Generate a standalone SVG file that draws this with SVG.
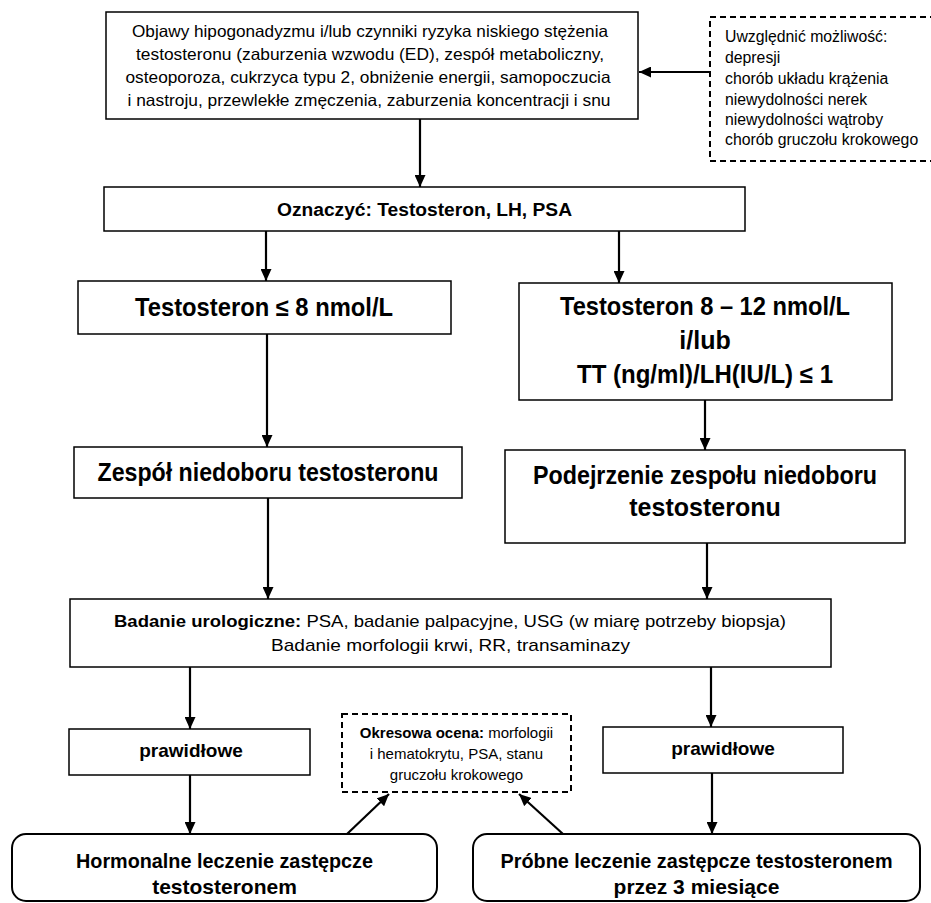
<svg xmlns="http://www.w3.org/2000/svg" width="931" height="903" viewBox="0 0 931 903">
<style>
.box{fill:#fff;stroke:#000;stroke-width:1.5}
.rbox{fill:#fff;stroke:#000;stroke-width:2}
.dbox{fill:#fff;stroke:#000;stroke-width:2;stroke-dasharray:6 4}
.c{stroke:#000;stroke-width:2.2;fill:none}
text{font-family:"Liberation Sans",Arial,sans-serif;fill:#000}
.n{font-size:16.5px;text-anchor:middle}
.s{font-size:15.8px}
.b{font-weight:bold;text-anchor:middle}
</style>
<defs>
<marker id="ah" markerUnits="userSpaceOnUse" markerWidth="12" markerHeight="11" refX="12" refY="5.5" orient="auto">
<path d="M0,0 L12,5.5 L0,11 z" fill="#000"/>
</marker>
</defs>

<g id="connectors">
<line class="c" x1="710" y1="72" x2="639" y2="72" marker-end="url(#ah)"/>
<line class="c" x1="420" y1="119" x2="420" y2="187" marker-end="url(#ah)"/>
<line class="c" x1="266" y1="231" x2="266" y2="281" marker-end="url(#ah)"/>
<line class="c" x1="619" y1="231" x2="619" y2="283" marker-end="url(#ah)"/>
<line class="c" x1="267" y1="334" x2="267" y2="447" marker-end="url(#ah)"/>
<line class="c" x1="705" y1="400" x2="705" y2="450" marker-end="url(#ah)"/>
<line class="c" x1="268" y1="498" x2="268" y2="599" marker-end="url(#ah)"/>
<line class="c" x1="707" y1="543" x2="707" y2="599" marker-end="url(#ah)"/>
<line class="c" x1="190" y1="667" x2="190" y2="729" marker-end="url(#ah)"/>
<line class="c" x1="711" y1="667" x2="711" y2="727" marker-end="url(#ah)"/>
<line class="c" x1="190" y1="775" x2="190" y2="834" marker-end="url(#ah)"/>
<line class="c" x1="712" y1="773" x2="712" y2="834" marker-end="url(#ah)"/>
<line class="c" x1="347" y1="834" x2="389" y2="794" marker-end="url(#ah)"/>
<line class="c" x1="563" y1="834" x2="519" y2="794" marker-end="url(#ah)"/>
</g>

<g id="n-objawy">
<rect class="box" x="106" y="12" width="532" height="107"/>
<text class="n" x="370" y="37" textLength="476" lengthAdjust="spacingAndGlyphs">Objawy hipogonadyzmu i/lub czynniki ryzyka niskiego stężenia</text>
<text class="n" x="370" y="60" textLength="468" lengthAdjust="spacingAndGlyphs">testosteronu (zaburzenia wzwodu (ED), zespół metaboliczny,</text>
<text class="n" x="368" y="83" textLength="485" lengthAdjust="spacingAndGlyphs">osteoporoza, cukrzyca typu 2, obniżenie energii, samopoczucia</text>
<text class="n" x="369" y="106" textLength="483" lengthAdjust="spacingAndGlyphs">i nastroju, przewlekłe zmęczenia, zaburzenia koncentracji i snu</text>
</g>

<g id="n-uwzglednic">
<rect class="dbox" x="710" y="17" width="226" height="144"/>
<text class="s" x="725" y="42">Uwzględnić możliwość:</text>
<text class="s" x="725" y="63">depresji</text>
<text class="s" x="725" y="84">chorób układu krążenia</text>
<text class="s" x="725" y="105">niewydolności nerek</text>
<text class="s" x="725" y="125">niewydolności wątroby</text>
<text class="s" x="725" y="145">chorób gruczołu krokowego</text>
</g>

<g id="n-oznaczyc">
<rect class="box" x="104" y="187" width="641" height="44"/>
<text class="b" x="424.5" y="216" font-size="18" textLength="295" lengthAdjust="spacingAndGlyphs">Oznaczyć: Testosteron, LH, PSA</text>
</g>

<g id="n-t8">
<rect class="box" x="78" y="281" width="373" height="53"/>
<text class="b" x="264" y="316" font-size="25" textLength="258" lengthAdjust="spacingAndGlyphs">Testosteron ≤ 8 nmol/L</text>
</g>

<g id="n-t812">
<rect class="box" x="519" y="283" width="373" height="117"/>
<text class="b" x="705" y="315" font-size="25" textLength="290" lengthAdjust="spacingAndGlyphs">Testosteron 8 – 12 nmol/L</text>
<text class="b" x="705" y="349" font-size="25">i/lub</text>
<text class="b" x="705" y="383" font-size="25" textLength="256" lengthAdjust="spacingAndGlyphs">TT (ng/ml)/LH(IU/L) ≤ 1</text>
</g>

<g id="n-zespol">
<rect class="box" x="74" y="447" width="388" height="51"/>
<text class="b" x="268" y="481" font-size="25" textLength="341" lengthAdjust="spacingAndGlyphs">Zespół niedoboru testosteronu</text>
</g>

<g id="n-podejrzenie">
<rect class="box" x="505" y="450" width="400" height="93"/>
<text class="b" x="705" y="484" font-size="25" textLength="344" lengthAdjust="spacingAndGlyphs">Podejrzenie zespołu niedoboru</text>
<text class="b" x="705" y="516" font-size="25">testosteronu</text>
</g>

<g id="n-badanie">
<rect class="box" x="70" y="599" width="761" height="68"/>
<text x="450" y="627" font-size="17" text-anchor="middle" textLength="672" lengthAdjust="spacingAndGlyphs"><tspan font-weight="bold">Badanie urologiczne:</tspan> PSA, badanie palpacyjne, USG (w miarę potrzeby biopsja)</text>
<text x="450.5" y="651" font-size="17" text-anchor="middle" textLength="359" lengthAdjust="spacingAndGlyphs">Badanie morfologii krwi, RR, transaminazy</text>
</g>

<g id="n-prawidlowe-l">
<rect class="box" x="69" y="729" width="241" height="46"/>
<text class="b" x="191" y="757" font-size="19">prawidłowe</text>
</g>

<g id="n-prawidlowe-r">
<rect class="box" x="603" y="727" width="240" height="46"/>
<text class="b" x="723" y="755" font-size="19">prawidłowe</text>
</g>

<g id="n-okresowa">
<rect class="dbox" x="342" y="714" width="229" height="78"/>
<text x="456.5" y="738" font-size="15" text-anchor="middle"><tspan font-weight="bold">Okresowa ocena:</tspan> morfologii</text>
<text x="456.5" y="759" font-size="15" text-anchor="middle">i hematokrytu, PSA, stanu</text>
<text x="456.5" y="780" font-size="15" text-anchor="middle">gruczołu krokowego</text>
</g>

<g id="n-hormonalne">
<rect class="rbox" x="12" y="834" width="425" height="67" rx="14" ry="14"/>
<text class="b" x="224.5" y="868" font-size="21" textLength="297" lengthAdjust="spacingAndGlyphs">Hormonalne leczenie zastępcze</text>
<text class="b" x="224.5" y="894" font-size="21">testosteronem</text>
</g>

<g id="n-probne">
<rect class="rbox" x="473" y="834" width="447" height="67" rx="14" ry="14"/>
<text class="b" x="696.5" y="868" font-size="21" textLength="392" lengthAdjust="spacingAndGlyphs">Próbne leczenie zastępcze testosteronem</text>
<text class="b" x="696.5" y="894" font-size="21">przez 3 miesiące</text>
</g>
</svg>
